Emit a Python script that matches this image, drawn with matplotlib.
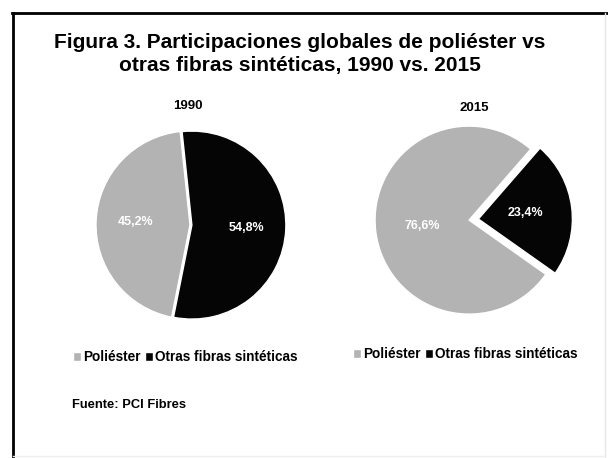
import matplotlib
matplotlib.use("Agg")
import matplotlib.pyplot as plt
from matplotlib.lines import Line2D

plt.rcParams['font.family'] = ['Liberation Sans', 'DejaVu Sans']

categorias = ["Poliéster", "Otras fibras sintéticas"]
anios = ["1990", "2015"]
valores_1990 = [45.2, 54.8]
valores_2015 = [76.6, 23.4]
colores = ["#b3b3b3", "#050505"]

W, H = 608, 458
fig = plt.figure(figsize=(W / 100, H / 100), dpi=100)


def px(x, y):
    return x / W, 1 - y / H


def pct(p):
    return f"{p:.1f}%".replace(".", ",")


def dibujar_pie(cx, cy, r, valores, inicio, explode, titulo, tx, ty, ly, pd):
    lim = 1.2
    size = 2 * lim * r
    ax = fig.add_axes([(cx - size / 2) / W, (H - cy - size / 2) / H, size / W, size / H])
    wedges, texts, autotexts = ax.pie(
        valores, colors=colores, startangle=inicio, counterclock=True,
        explode=explode, autopct=pct, pctdistance=pd,
        wedgeprops=dict(edgecolor="white", linewidth=1.0),
        textprops=dict(color="white", fontsize=9, fontweight="bold"))
    ax.set_xlim(-lim, lim)
    ax.set_ylim(-lim, lim)
    ax.set_aspect("equal")
    ax.axis("off")
    fig.text(*px(tx, ty), titulo, ha="center", va="center", fontsize=9.5, fontweight="bold")
    fig.legend(wedges, categorias, loc="center", bbox_to_anchor=px(cx - 5, ly),
               ncol=2, frameon=False, prop=dict(weight="bold", size=9.8),
               handlelength=0.6, handleheight=0.6, handletextpad=0.15,
               columnspacing=0.3, borderpad=0)
    return ax


dibujar_pie(190, 225, 94, valores_1990, 96, [0, 0.02], anios[0], 188, 106, 357, 0.58)
dibujar_pie(470, 220, 94, valores_2015, 49, [0.01, 0.09], anios[1], 474, 108, 354, 0.5)

fig.text(*px(300, 54), "Figura 3. Participaciones globales de poliéster vs\notras fibras sintéticas, 1990 vs. 2015",
         ha="center", va="center", fontsize=15, fontweight="bold", linespacing=1.3)
fig.text(*px(72, 405), "Fuente: PCI Fibres", ha="left", va="center", fontsize=9.3, fontweight="bold")

# marco
fig.add_artist(Line2D([13 / W, 13 / W], [0, 1 - 13 / H], color="black", lw=2, transform=fig.transFigure))
fig.add_artist(Line2D([12 / W, 1], [1 - 13 / H, 1 - 13 / H], color="black", lw=2, transform=fig.transFigure))
fig.add_artist(Line2D([605 / W, 605 / W], [0, 1 - 13 / H], color="#e6e6e6", lw=1, transform=fig.transFigure))
fig.add_artist(Line2D([13 / W, 605 / W], [2 / H, 2 / H], color="#eeeeee", lw=1, transform=fig.transFigure))

fig.savefig("out.png", dpi=100)
